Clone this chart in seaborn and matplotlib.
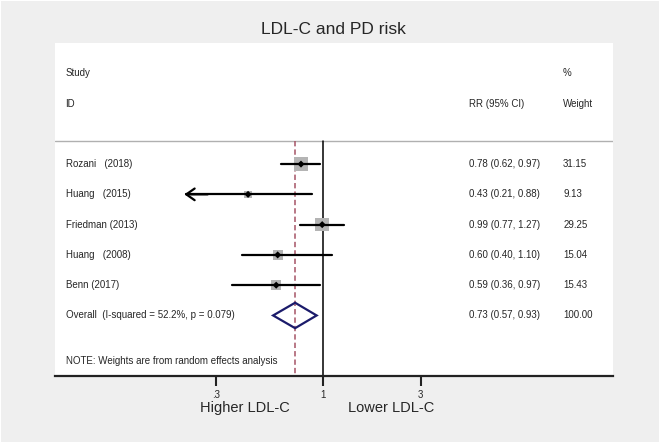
import numpy as np
import pandas as pd
import matplotlib
matplotlib.use("Agg")
import matplotlib.pyplot as plt
import matplotlib.transforms as mtransforms
from matplotlib.patches import Polygon, Rectangle
import seaborn as sns

# data
studies = ["Rozani   (2018)", "Huang   (2015)", "Friedman (2013)", "Huang   (2008)", "Benn (2017)"]
rr = [0.78, 0.43, 0.99, 0.60, 0.59]
lo = [0.62, 0.21, 0.77, 0.40, 0.36]
hi = [0.97, 0.88, 1.27, 1.10, 0.97]
weights = [31.15, 9.13, 29.25, 15.04, 15.43]
overall_label = "Overall  (I-squared = 52.2%, p = 0.079)"
overall = (0.73, 0.57, 0.93)
tick_vals = [0.3, 1, 3]
tick_labels = [".3", "1", "3"]

df = pd.DataFrame({"study": studies, "rr": rr, "lo": lo, "hi": hi,
                   "weight": weights, "row": np.arange(len(studies))})

sns.set_style("white")
plt.rcParams["font.family"] = ["Liberation Sans", "DejaVu Sans"]

W, H = 661, 446
fig = plt.figure(figsize=(W / 100, H / 100), dpi=100, facecolor="white")
# light grey Stata background
fig.patches.append(Rectangle((1 / W, 4 / H), 658 / W, 441 / H, transform=fig.transFigure,
                             facecolor="#efefef", edgecolor="none", zorder=-10))

px_l, px_r, px_t, px_b = 55, 612.7, 43, 376
ax = fig.add_axes([px_l / W, 1 - px_b / H, (px_r - px_l) / W, (px_b - px_t) / H])
ax.set_facecolor("white")

ax.set_xscale("log")
ax.set_xlim(0.049, 26.0)
ax.set_ylim(7, -4)

sep = -0.75
ax.plot([ax.get_xlim()[0], ax.get_xlim()[1]], [sep, sep], color="#b0b0b0", lw=1.0, zorder=1)
ax.plot([1, 1], [sep, 7], color="black", lw=1.1, zorder=1)
ax.plot([overall[0], overall[0]], [sep, 7], color="#a65466", lw=1.1,
        dashes=(3.5, 2), zorder=1)

# CI lines (arrow where clipped)
for _, r in df.iterrows():
    if r["lo"] < 0.22:
        ax.plot([r["lo"] * 1.02, r["hi"]], [r["row"], r["row"]], color="black", lw=1.6, zorder=3)
        ax.annotate("", xy=(r["lo"], r["row"]), xytext=(r["lo"] * 1.3, r["row"]),
                    arrowprops=dict(arrowstyle="->,head_length=0.6,head_width=0.42",
                                    lw=1.6, color="black", shrinkA=0, shrinkB=0), zorder=3)
    else:
        ax.plot([r["lo"], r["hi"]], [r["row"], r["row"]], color="black", lw=1.6, zorder=3)

# weight boxes
sns.scatterplot(data=df, x="rr", y="row", size="weight", sizes=(30, 102),
                size_norm=(min(weights), max(weights)), marker="s", color="#b4b4b4",
                edgecolor="none", legend=False, ax=ax, zorder=2)
sns.scatterplot(data=df, x="rr", y="row", marker="D", s=13, color="black",
                edgecolor="none", legend=False, ax=ax, zorder=4)

# overall diamond
orow = len(studies)
ax.add_patch(Polygon([(overall[1], orow), (overall[0], orow - 0.42),
                      (overall[2], orow), (overall[0], orow + 0.42)],
                     closed=True, fill=False, edgecolor="#1b1b6b", lw=1.6, zorder=4))

# text columns
tx = ax.get_yaxis_transform()
fs = 7
xl, xrr, xw = 0.019, 0.742, 0.911
ax.text(xl, -3, "Study", transform=tx, fontsize=fs, va="center")
ax.text(xl, -2, "ID", transform=tx, fontsize=fs, va="center")
ax.text(xrr, -2, "RR (95% CI)", transform=tx, fontsize=fs, va="center")
ax.text(xw, -3, "%", transform=tx, fontsize=fs, va="center")
ax.text(xw, -2, "Weight", transform=tx, fontsize=fs, va="center")
for _, r in df.iterrows():
    ax.text(xl, r["row"], r["study"], transform=tx, fontsize=fs, va="center")
    ax.text(xrr, r["row"], f"{r['rr']:.2f} ({r['lo']:.2f}, {r['hi']:.2f})",
            transform=tx, fontsize=fs, va="center")
    ax.text(xw, r["row"], f"{r['weight']:.2f}", transform=tx, fontsize=fs, va="center")
ax.text(xl, orow, overall_label, transform=tx, fontsize=fs, va="center")
ax.text(xrr, orow, f"{overall[0]:.2f} ({overall[1]:.2f}, {overall[2]:.2f})",
        transform=tx, fontsize=fs, va="center")
ax.text(xw, orow, "100.00", transform=tx, fontsize=fs, va="center")
ax.text(xl, 6.5, "NOTE: Weights are from random effects analysis", transform=tx,
        fontsize=fs, va="center")

# axis
for s in ["top", "left", "right"]:
    ax.spines[s].set_visible(False)
ax.spines["bottom"].set_linewidth(1.6)
ax.spines["bottom"].set_color("#222222")
ax.set_yticks([])
ax.set_xticks(tick_vals)
ax.set_xticklabels(tick_labels)
ax.xaxis.set_minor_locator(matplotlib.ticker.NullLocator())
ax.tick_params(axis="x", direction="out", length=7, width=1.5, pad=3,
               labelsize=7, bottom=True, color="#222222")
ax.set_xlabel("")
ax.set_ylabel("")

bt = mtransforms.blended_transform_factory(ax.transData, fig.transFigure)
fig.text(0.416, 1 - 408 / H, "Higher LDL-C", transform=bt, ha="center", va="center", fontsize=10.5)
fig.text(2.14, 1 - 408 / H, "Lower LDL-C", transform=bt, ha="center", va="center", fontsize=10.5)

fig.text(333 / W, 1 - 29 / H, "LDL-C and PD risk", ha="center", va="center", fontsize=12.5)

fig.savefig("out.png", dpi=100, facecolor=fig.get_facecolor())
